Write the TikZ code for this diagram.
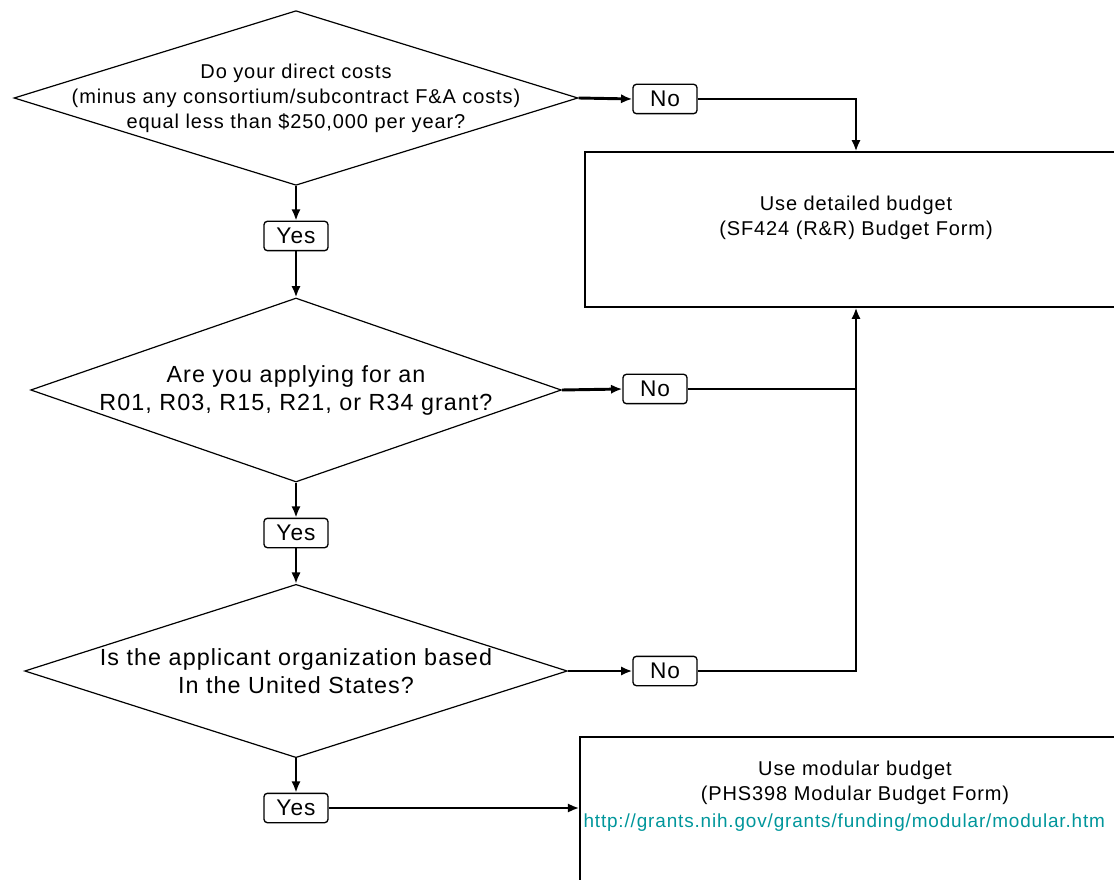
\documentclass[tikz,border=0pt]{standalone}
\usepackage{fontspec}
\setmainfont{Liberation Sans}
\newfontfamily\flowfont[LetterSpace=4.5]{Liberation Sans}
\usetikzlibrary{shapes.geometric,arrows.meta}

\definecolor{urlteal}{RGB}{0,150,155}

\tikzset{every picture/.style={line width=0.75pt},
  question/.style={draw, diamond, inner sep=0pt, line width=0.9pt},
  answer/.style={draw, rectangle, rounded corners=2.5pt, inner sep=0pt, line width=1pt,
    minimum width=48pt, minimum height=22pt, font=\flowfont\fontsize{17}{20}\selectfont},
  budgetbox/.style={draw, rectangle, inner sep=0pt, line width=1.2pt},
  smalltxt/.style={align=center, font=\flowfont\fontsize{15}{18.75}\selectfont},
  bigtxt/.style={align=center, font=\flowfont\fontsize{17.5}{21}\selectfont},
  flow/.style={line width=2.2pt, -{Latex[length=8.5pt,width=7pt]}},
  flowline/.style={line width=2.2pt}
}

\begin{document}
\begin{tikzpicture}[x=0.75pt,y=0.75pt,yscale=-1,xscale=1]
	\useasboundingbox (0,0) rectangle (1114,880);
	\clip (0,0) rectangle (1114,880);

	%Shape: Diamonds
	\node [question, minimum width=423pt, minimum height=131pt] (q1) at (296,98) {};
	\node [question, minimum width=398pt, minimum height=138pt] (q2) at (296,390) {};
	\node [question, minimum width=407pt, minimum height=130pt] (q3) at (296,671) {};

	%Shape: Rectangles
	\node [budgetbox, minimum width=406.5pt, minimum height=116pt] (detbox) at (856,229.5) {};
	\node [budgetbox, minimum width=412.5pt, minimum height=135pt] (modbox) at (855,827) {};

	% Text Node
	\node [smalltxt] (q1txt) at (296,98) {Do your direct costs\\(minus any consortium/subcontract F\&A costs)\\equal less than \$250,000 per year?};
	% Text Node
	\node [bigtxt] (q2txt) at (296,390) {Are you applying for an\\R01, R03, R15, R21, or R34 grant?};
	% Text Node
	\node [bigtxt] (q3txt) at (296,671.5) {Is the applicant organization based\\In the United States?};
	% Text Node
	\node [smalltxt] (dettxt) at (856,218) {Use detailed budget\\(SF424 (R\&R) Budget Form)};
	% Text Node
	\node [smalltxt] (modtxt) at (855,783) {Use modular budget\\(PHS398 Modular Budget Form)};
	% Text Node
	\node [smalltxt, font=\flowfont\fontsize{14.2}{18}\selectfont, anchor=west, text=urlteal, inner sep=0pt] (modurl) at (583,823) {http://grants.nih.gov/grants/funding/modular/modular.htm};

	%Answer boxes
	\node [answer] (no1) at (665,99) {No};
	\node [answer] (no2) at (655,389) {No};
	\node [answer] (no3) at (665,671) {No};
	\node [answer] (yes1) at (296,236) {Yes};
	\node [answer] (yes2) at (296,533) {Yes};
	\node [answer] (yes3) at (296,808) {Yes};

	%Straight Lines
	\draw [flow] (q1.east) -- (no1.west);
	\draw [flow] (no1.east) -| (detbox.north);
	\draw [flow] (q1.south) -- (yes1.north);
	\draw [flow] (yes1.south) -- (q2.north);
	\draw [flow] (q2.east) -- (no2.west);
	\coordinate (join2) at (no2.east -| detbox.south);
	\draw [flowline] (no2.east) -- (join2);
	\draw [flow] (no3.east) -| (detbox.south);
	\draw [flow] (q2.south) -- (yes2.north);
	\draw [flow] (yes2.south) -- (q3.north);
	\draw [flow] (q3.east) -- (no3.west);
	\draw [flow] (q3.south) -- (yes3.north);
	\draw [flow] (yes3.east) -- (yes3.east -| modbox.west);

\end{tikzpicture}
\end{document}
